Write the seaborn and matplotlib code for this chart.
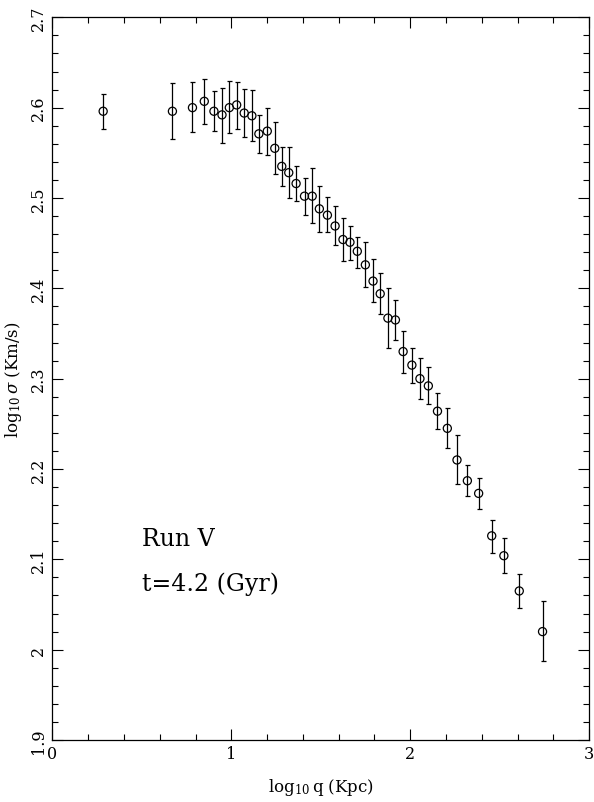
import numpy as np
import pandas as pd
import matplotlib
matplotlib.use('Agg')
import matplotlib.pyplot as plt
from matplotlib.ticker import MultipleLocator, FuncFormatter
import seaborn as sns

# log10 q (Kpc)
log_q = [0.284, 0.671, 0.783, 0.849, 0.903, 0.948, 0.989, 1.030, 1.072, 1.115,
         1.154, 1.201, 1.243, 1.282, 1.321, 1.362, 1.409, 1.452, 1.492, 1.537,
         1.580, 1.624, 1.663, 1.704, 1.749, 1.792, 1.832, 1.875, 1.917, 1.960,
         2.009, 2.054, 2.101, 2.152, 2.207, 2.261, 2.319, 2.382, 2.455, 2.523,
         2.609, 2.739]
# log10 sigma (Km/s)
log_sigma = [2.596, 2.596, 2.600, 2.607, 2.596, 2.592, 2.600, 2.603, 2.594, 2.591,
             2.571, 2.574, 2.555, 2.535, 2.528, 2.516, 2.502, 2.502, 2.488, 2.481,
             2.469, 2.454, 2.451, 2.441, 2.426, 2.408, 2.394, 2.367, 2.365, 2.330,
             2.315, 2.300, 2.292, 2.264, 2.245, 2.210, 2.187, 2.173, 2.126, 2.104,
             2.065, 2.020]
err_top = [2.615, 2.627, 2.628, 2.632, 2.618, 2.622, 2.629, 2.628, 2.621, 2.619,
           2.592, 2.600, 2.584, 2.556, 2.556, 2.535, 2.522, 2.533, 2.513, 2.501,
           2.491, 2.478, 2.469, 2.457, 2.451, 2.432, 2.417, 2.400, 2.387, 2.353,
           2.334, 2.323, 2.313, 2.284, 2.267, 2.238, 2.204, 2.190, 2.144, 2.124,
           2.084, 2.054]
err_bot = [2.576, 2.565, 2.573, 2.582, 2.574, 2.561, 2.572, 2.576, 2.568, 2.563,
           2.550, 2.548, 2.527, 2.513, 2.500, 2.497, 2.481, 2.472, 2.462, 2.462,
           2.448, 2.430, 2.431, 2.423, 2.401, 2.385, 2.372, 2.334, 2.343, 2.306,
           2.295, 2.277, 2.272, 2.244, 2.223, 2.183, 2.170, 2.156, 2.107, 2.085,
           2.046, 1.987]

df = pd.DataFrame({'q': log_q, 's': log_sigma, 'hi': err_top, 'lo': err_bot})

sns.set_style('ticks')
plt.rcParams['font.family'] = ['DejaVu Serif']
plt.rcParams['mathtext.fontset'] = 'dejavuserif'
plt.rcParams['text.color'] = 'black'
plt.rcParams['axes.labelcolor'] = 'black'
plt.rcParams['xtick.color'] = 'black'
plt.rcParams['ytick.color'] = 'black'
plt.rcParams['axes.edgecolor'] = 'black'

fig = plt.figure(figsize=(5.94, 8.03), dpi=100)
ax = fig.add_axes([0.0881, 0.0772, 0.9039, 0.9000])

ax.errorbar(df['q'], df['s'], yerr=[df['s'] - df['lo'], df['hi'] - df['s']],
            fmt='none', ecolor='black', elinewidth=0.9, capsize=1.8, capthick=0.9)
sns.scatterplot(data=df, x='q', y='s', ax=ax, marker='o', s=34,
                facecolor='none', edgecolor='black', linewidth=0.9, zorder=3)

ax.set_xlim(0, 3)
ax.set_ylim(1.9, 2.7)
ax.xaxis.set_major_locator(MultipleLocator(1))
ax.xaxis.set_minor_locator(MultipleLocator(0.2))
ax.yaxis.set_major_locator(MultipleLocator(0.1))
ax.yaxis.set_minor_locator(MultipleLocator(0.02))
ax.yaxis.set_major_formatter(FuncFormatter(lambda v, p: '%g' % round(v, 2)))
ax.tick_params(which='both', direction='in', top=True, right=True, width=0.8,
               labelsize=11.5)
ax.tick_params(which='major', length=8)
ax.tick_params(which='minor', length=4)
ax.tick_params(axis='y', labelrotation=90, pad=4)
for lab in ax.get_yticklabels():
    lab.set_va('center')
for sp in ax.spines.values():
    sp.set_linewidth(0.9)

ax.set_xlabel(r'$\log_{10}$q (Kpc)', fontsize=12, labelpad=10)
ax.set_ylabel(r'$\log_{10}\sigma$ (Km/s)', fontsize=12, labelpad=4)

ax.text(0.5, 2.123, 'Run V', fontsize=17, va='center', ha='left')
ax.text(0.5, 2.073, 't=4.2 (Gyr)', fontsize=17, va='center', ha='left')

fig.savefig('out.png', dpi=100)
